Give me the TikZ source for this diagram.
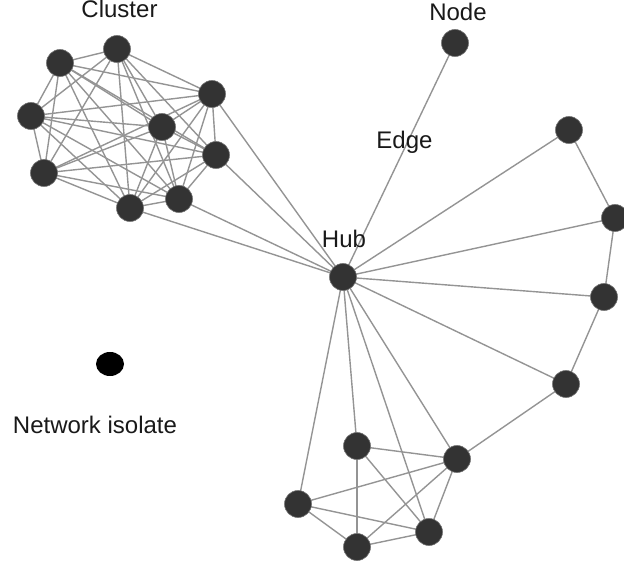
\documentclass[tikz,border=0pt]{standalone}
\usepackage{fontspec}
\setmainfont{Liberation Sans}
\usetikzlibrary{shapes.geometric,backgrounds}
\begin{document}
\begin{tikzpicture}[x=1pt,y=-1pt,
  vtx/.style={circle,fill=black!80,draw=black!55,line width=0.6pt,minimum size=27pt,inner sep=0pt},
  link/.style={draw=black!42,line width=1.4pt},
  lbl/.style={font=\fontsize{24}{28}\selectfont,anchor=base,inner sep=0pt,text=black!90}]
\useasboundingbox (0,0) rectangle (624,569);

% dense cluster (complete graph)
\node[vtx] (c1) at (60,63) {};
\node[vtx] (c2) at (117,49) {};
\node[vtx] (c3) at (212,94) {};
\node[vtx] (c4) at (31,116) {};
\node[vtx] (c5) at (162,127) {};
\node[vtx] (c6) at (216,155) {};
\node[vtx] (c7) at (44,173) {};
\node[vtx] (c8) at (130,208) {};
\node[vtx] (c9) at (179,199) {};

% hub and single node
\node[vtx] (h) at (343,277) {};
\node[vtx] (n) at (455,43) {};

% right chain
\node[vtx] (r1) at (569,130) {};
\node[vtx] (r2) at (615,218) {};
\node[vtx] (r3) at (604,297) {};
\node[vtx] (r4) at (566,384) {};

% bottom group
\node[vtx] (b1) at (357,446) {};
\node[vtx] (b2) at (457,459) {};
\node[vtx] (b3) at (298,504) {};
\node[vtx] (b4) at (429,532) {};
\node[vtx] (b5) at (357,547) {};

% isolate
\node[ellipse,fill=black,minimum width=28pt,minimum height=24pt,inner sep=0pt] (iso) at (110,364) {};

\begin{pgfonlayer}{background}
% cluster edges
\foreach \i in {1,...,8} {
  \pgfmathtruncatemacro\j{\i+1}
  \foreach \k in {\j,...,9} \draw[link] (c\i.center) -- (c\k.center);
}

% hub edges
\foreach \t in {n,c3,c6,c9,c8,r1,r2,r3,r4,b1,b2,b3,b4}
  \draw[link] (h.center) -- (\t.center);

% right chain
\draw[link] (r1.center) -- (r2.center);
\draw[link] (r2.center) -- (r3.center);
\draw[link] (r3.center) -- (r4.center);
\draw[link] (r4.center) -- (b2.center);

% bottom group
\foreach \a/\b in {b1/b2,b1/b5,b1/b4,b3/b2,b3/b4,b3/b5,b5/b4,b5/b2,b4/b2}
  \draw[link] (\a.center) -- (\b.center);
\end{pgfonlayer}

% labels
\node[lbl] (tcl) at (119.5,18) {Cluster};
\node[lbl] (tnd) at (458,21) {Node};
\node[lbl] (ted) at (404.5,149) {Edge};
\node[lbl] (thb) at (344,248) {Hub};
\node[lbl] (tis) at (95,433) {Network isolate};
\end{tikzpicture}
\end{document}
